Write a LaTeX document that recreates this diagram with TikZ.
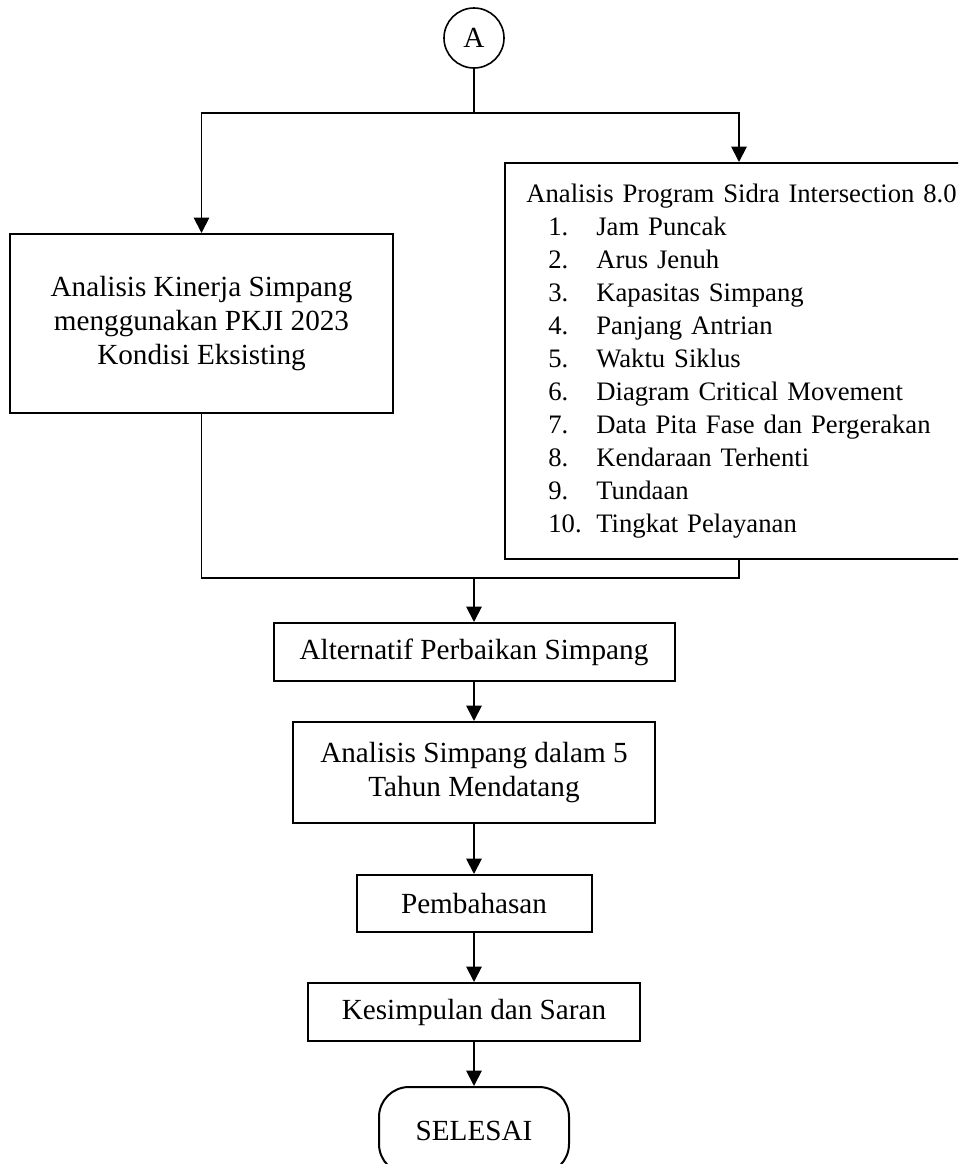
\documentclass[tikz,border=0pt]{standalone}
\usepackage{fontspec}
\setmainfont{Liberation Serif}
\usetikzlibrary{arrows.meta}
\newcommand{\teksbesar}{\fontsize{21.9pt}{25.5pt}\selectfont}
\newcommand{\tekskecil}{\fontsize{20pt}{24.75pt}\selectfont}
\newcommand{\butir}[2]{\hspace*{16.5pt}\makebox[36pt][l]{#1}#2}
\tikzset{
  kotak/.style={draw, line width=1.5pt, inner sep=0pt, align=center, font=\teksbesar},
  panah/.style={-{Triangle[length=11.5pt,width=11.5pt]}, line width=1.4pt},
  garis/.style={line width=1.4pt}
}

\begin{document}
\begin{tikzpicture}[x=0.75pt, y=-0.75pt]
  \useasboundingbox (0,0) rectangle (958,1164);
  \clip (0,0) rectangle (958,1164);

  % Konektor A
  \node[draw, circle, line width=1.2pt, minimum size=45pt, inner sep=0pt, font=\teksbesar] (A) at (474,38) {A};

  % Dua cabang analisis
  \node[kotak, minimum width=287.25pt, minimum height=134.25pt] (kinerja) at (201.5,323.5)
    {Analisis Kinerja Simpang\\menggunakan PKJI 2023\\Kondisi Eksisting};
  \node[kotak, anchor=north west, align=left, text width=319pt, inner xsep=16pt,
        minimum height=297pt, font=\tekskecil] (sidra) at (504,162)
    {\mbox{Analisis Program Sidra Intersection 8.0}\\
     \butir{1.}{Jam Puncak}\\
     \butir{2.}{Arus Jenuh}\\
     \butir{3.}{Kapasitas Simpang}\\
     \butir{4.}{Panjang Antrian}\\
     \butir{5.}{Waktu Siklus}\\
     \butir{6.}{Diagram Critical Movement}\\
     \butir{7.}{Data Pita Fase dan Pergerakan}\\
     \butir{8.}{Kendaraan Terhenti}\\
     \butir{9.}{Tundaan}\\
     \butir{10.}{Tingkat Pelayanan}};

  % Alur utama
  \node[kotak, minimum width=300.75pt, minimum height=43.5pt] (alt) at (474,652) {Alternatif Perbaikan Simpang};
  \node[kotak, minimum width=271.5pt, minimum height=75.75pt] (lima) at (474,772.5) {Analisis Simpang dalam 5\\Tahun Mendatang};
  \node[kotak, minimum width=176.25pt, minimum height=42.75pt] (bahas) at (474,903.5) {Pembahasan};
  \node[kotak, minimum width=249pt, minimum height=43.5pt] (simpul) at (474,1012) {Kesimpulan dan Saran};
  \node[kotak, rounded corners=22.5pt, minimum width=142.5pt, minimum height=65.25pt] (selesai) at (474,1130.5) {SELESAI};

  % Garis penghubung
  \coordinate (cabang) at (474,113);
  \coordinate (gabung) at (474,578);
  \draw[garis] (A) -- (cabang);
  \draw[panah] (cabang) -| (kinerja.north);
  \draw[panah] (cabang) -| (sidra.north);
  \draw[garis] (kinerja.south) |- (gabung);
  \draw[garis] (sidra.south) |- (gabung);
  \draw[panah] (gabung) -- (alt);
  \draw[panah] (alt) -- (lima);
  \draw[panah] (lima) -- (bahas);
  \draw[panah] (bahas) -- (simpul);
  \draw[panah] (simpul) -- (selesai);
\end{tikzpicture}
\end{document}
